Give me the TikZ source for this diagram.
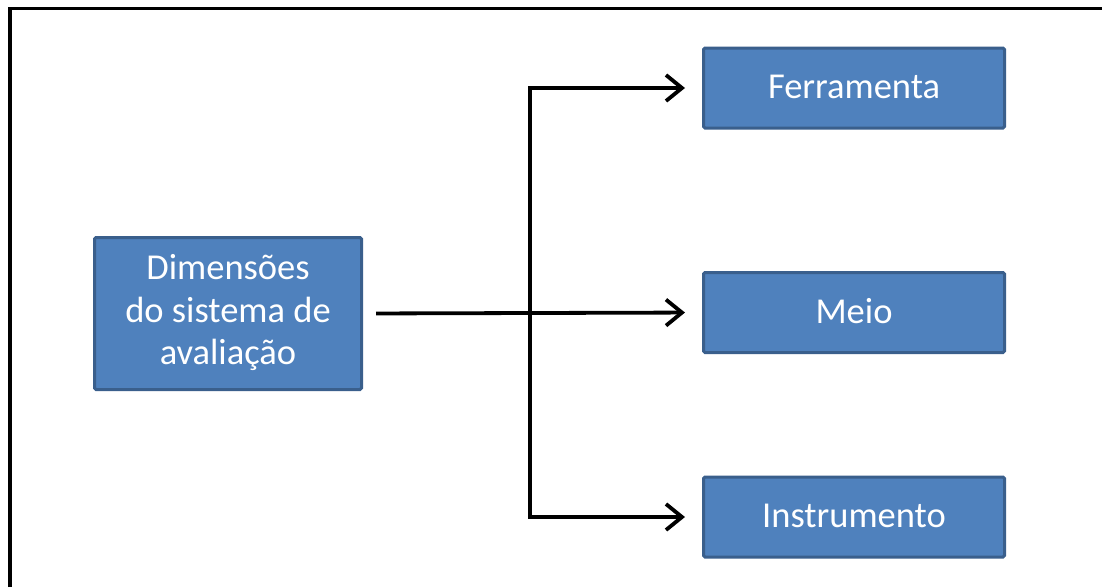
\documentclass[tikz,border=0pt]{standalone}
\usepackage{fontspec}
\setmainfont{Carlito}
\usetikzlibrary{arrows.meta}
\definecolor{boxfill}{HTML}{4F81BD}
\definecolor{boxdraw}{HTML}{3A5F8C}
\begin{document}
\begin{tikzpicture}[x=1pt,y=-1pt,
  box/.style={draw=boxdraw, fill=boxfill, line width=3pt, rounded corners=1.5pt,
    text=white, align=center, inner sep=0pt,
    font=\fontsize{36.5}{42.5}\selectfont},
  conn/.style={line width=3.8pt, draw=black},
  barb/.tip={Straight Barb[length=16pt,width=26pt,line width=3.8pt]}
]
\fill[white] (0,0) rectangle (1102,587);
\useasboundingbox (0,0) rectangle (1102,587);
\draw[line width=3.5pt, line cap=butt] (10,587) -- (10,8.5) -- (1102,8.5);
\node[box, minimum width=267pt, minimum height=152pt] (root) at (228,313.5) {\raisebox{2pt}{\begin{tabular}{@{}c@{}}Dimensões\\do sistema de\\avaliação\end{tabular}}};
\node[box, minimum width=301pt, minimum height=80pt] (ferr) at (854,88) {\raisebox{3pt}{Ferramenta}};
\node[box, minimum width=301pt, minimum height=80pt] (meio) at (854,312.5) {\raisebox{3pt}{Meio}};
\node[box, minimum width=301pt, minimum height=80pt] (inst) at (854,517) {\raisebox{3pt}{Instrumento}};
\coordinate (j) at (530,312.5);
\draw[conn, -barb, shorten <=13pt, shorten >=17pt] (root.east) -- (meio.west);
\draw[conn, barb-barb, shorten <=17pt, shorten >=17pt]
  (ferr.west) -- (j |- ferr.west) -- (j |- inst.west) -- (inst.west);
\end{tikzpicture}
\end{document}
